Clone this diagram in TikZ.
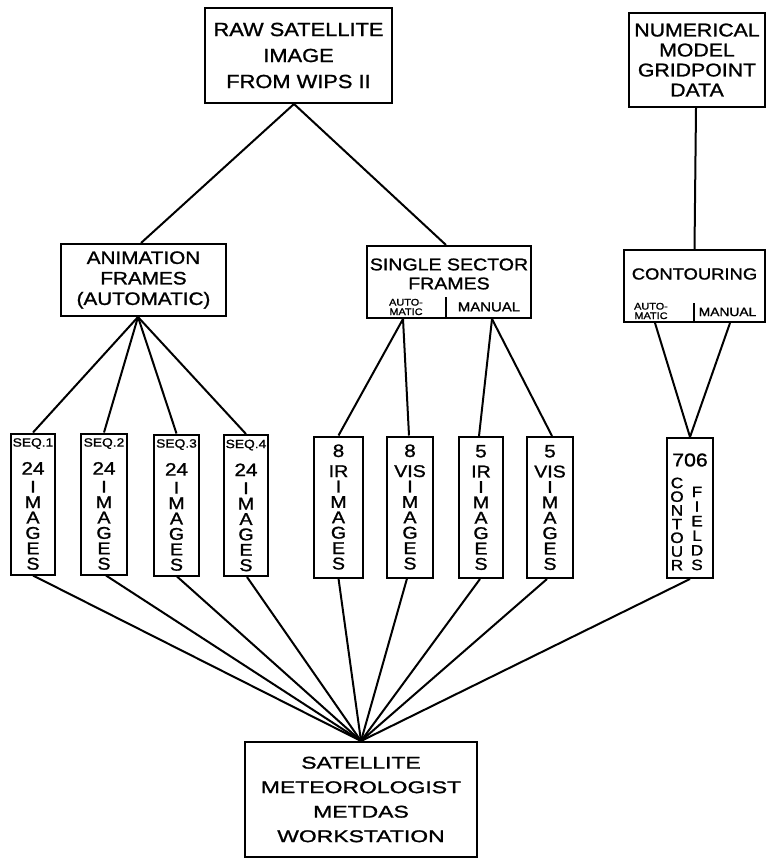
\documentclass[tikz,border=0pt]{standalone}
\usepackage{fontspec}
\setmainfont{Liberation Sans}[FakeStretch=1.15,FakeBold=1.2]
\newfontfamily\wsfont{Liberation Sans}[FakeStretch=1.35,FakeBold=1.2]
\newcommand\seqtext[1]{{\fontsize{12}{12}\selectfont SEQ.#1}\\[12.6pt]{\fontsize{18}{18}\selectfont 24}\\[2.6pt]I\\M\\A\\G\\E\\S}
\newcommand\imgtext[2]{{\fontsize{18}{18}\selectfont #1}\\[4.6pt]{\fontsize{17}{17}\selectfont #2}\\I\\M\\A\\G\\E\\S}
\begin{document}
\begin{tikzpicture}[x=1pt,y=-1pt]
\tikzset{
  box/.style={draw, line width=2pt, inner sep=0pt, align=center},
  vbox/.style={box, minimum height=141pt, font=\fontsize{17}{15.4}\selectfont},
  txt/.style={inner sep=0pt, align=center},
  smalltxt/.style={txt, font=\fontsize{9.5}{9.5}\selectfont},
  conn/.style={line width=2pt}
}
\useasboundingbox (0,0) rectangle (767,858);
\fill[white] (0,0) rectangle (767,858);

% top boxes
\node[box, minimum width=187pt, minimum height=95pt, font=\fontsize{19}{26}\selectfont] (raw) at (298.5,55.5) {RAW SATELLITE\\IMAGE\\FROM WIPS II};
\node[box, minimum width=136pt, minimum height=94pt, font=\fontsize{18.5}{20}\selectfont] (num) at (697,60) {NUMERICAL\\MODEL\\GRIDPOINT\\DATA};

% middle boxes
\node[box, minimum width=165pt, minimum height=72pt, font=\fontsize{18}{20.5}\selectfont] (anim) at (143.5,280) {ANIMATION\\FRAMES\\(AUTOMATIC)};

\node[box, minimum width=164pt, minimum height=72pt] (single) at (449,282) {};
\node[txt, font=\fontsize{17}{19}\selectfont] (singlet) at (449,274) {SINGLE SECTOR\\FRAMES};
\node[smalltxt] (singleauto) at (406,307) {AUTO-\\MATIC};
\node[txt, font=\fontsize{13}{13}\selectfont] (singleman) at (489,307) {MANUAL};
\draw[conn] ([xshift=-3pt]single.south) -- ++(0,-22);

\node[box, minimum width=141pt, minimum height=72pt] (cont) at (694.5,286) {};
\node[txt, font=\fontsize{16}{18}\selectfont] (contt) at (694.5,274) {CONTOURING};
\node[smalltxt] (contauto) at (651,311) {AUTO-\\MATIC};
\node[txt, font=\fontsize{12}{12}\selectfont] (contman) at (727.5,312) {MANUAL};
\draw[conn] ([xshift=-0.5pt]cont.south) -- ++(0,-20);

% vertical boxes
\node[vbox, minimum width=44pt] (seq1) at (33,504) {\seqtext{1}};
\node[vbox, minimum width=46pt] (seq2) at (104,504) {\seqtext{2}};
\node[vbox, minimum width=45pt] (seq3) at (176.5,505) {\seqtext{3}};
\node[vbox, minimum width=44pt] (seq4) at (246,505.5) {\seqtext{4}};
\node[vbox, minimum width=49pt] (ir8) at (338.5,507) {\imgtext{8}{IR}};
\node[vbox, minimum width=46pt] (vis8) at (410,507) {\imgtext{8}{VIS}};
\node[vbox, minimum width=44pt] (ir5) at (481,507.5) {\imgtext{5}{IR}};
\node[vbox, minimum width=46pt] (vis5) at (550,507.5) {\imgtext{5}{VIS}};

\node[box, minimum width=46pt, minimum height=140pt] (f706) at (690,508) {};
\node[txt, font=\fontsize{18.5}{18.5}\selectfont] (t706) at (690,460) {706};
\node[txt, font=\fontsize{15}{13.7}\selectfont] (tcontour) at (677,524) {C\\O\\N\\T\\O\\U\\R};
\node[txt, font=\fontsize{15}{14.6}\selectfont] (tfields) at (697,528.5) {F\\I\\E\\L\\D\\S};

% bottom box
\node[box, minimum width=232pt, minimum height=115pt, font=\wsfont\fontsize{17}{24.5}\selectfont] (ws) at (361,799.5) {SATELLITE\\METEOROLOGIST\\METDAS\\WORKSTATION};

% connectors
\draw[conn] ([xshift=-4.5pt]raw.south) -- ([xshift=-2.5pt]anim.north);
\draw[conn] ([xshift=-4.5pt]raw.south) -- ([xshift=-3pt]single.north);
\draw[conn] ([xshift=-1pt]num.south) -- (cont.north);
\foreach \s in {seq1,seq2,seq3,seq4}
  \draw[conn] ([xshift=-5.5pt]anim.south) -- (\s.north);
\draw[conn] ([xshift=-46pt]single.south) -- (ir8.north);
\draw[conn] ([xshift=-46pt]single.south) -- ([xshift=-1pt]vis8.north);
\draw[conn] ([xshift=43pt]single.south) -- ([xshift=-2pt]ir5.north);
\draw[conn] ([xshift=43pt]single.south) -- ([xshift=2pt]vis5.north);
\draw[conn] ([xshift=-39.5pt]cont.south) -- (f706.north);
\draw[conn] ([xshift=35.5pt]cont.south) -- (f706.north);
\foreach \s/\dx in {seq1/0,seq2/2,seq3/0.5,seq4/1,ir8/0,vis8/-3,ir5/-1,vis5/-3,f706/0}
  \draw[conn] ([xshift=\dx pt]\s.south) -- (ws.north);
\end{tikzpicture}
\end{document}
